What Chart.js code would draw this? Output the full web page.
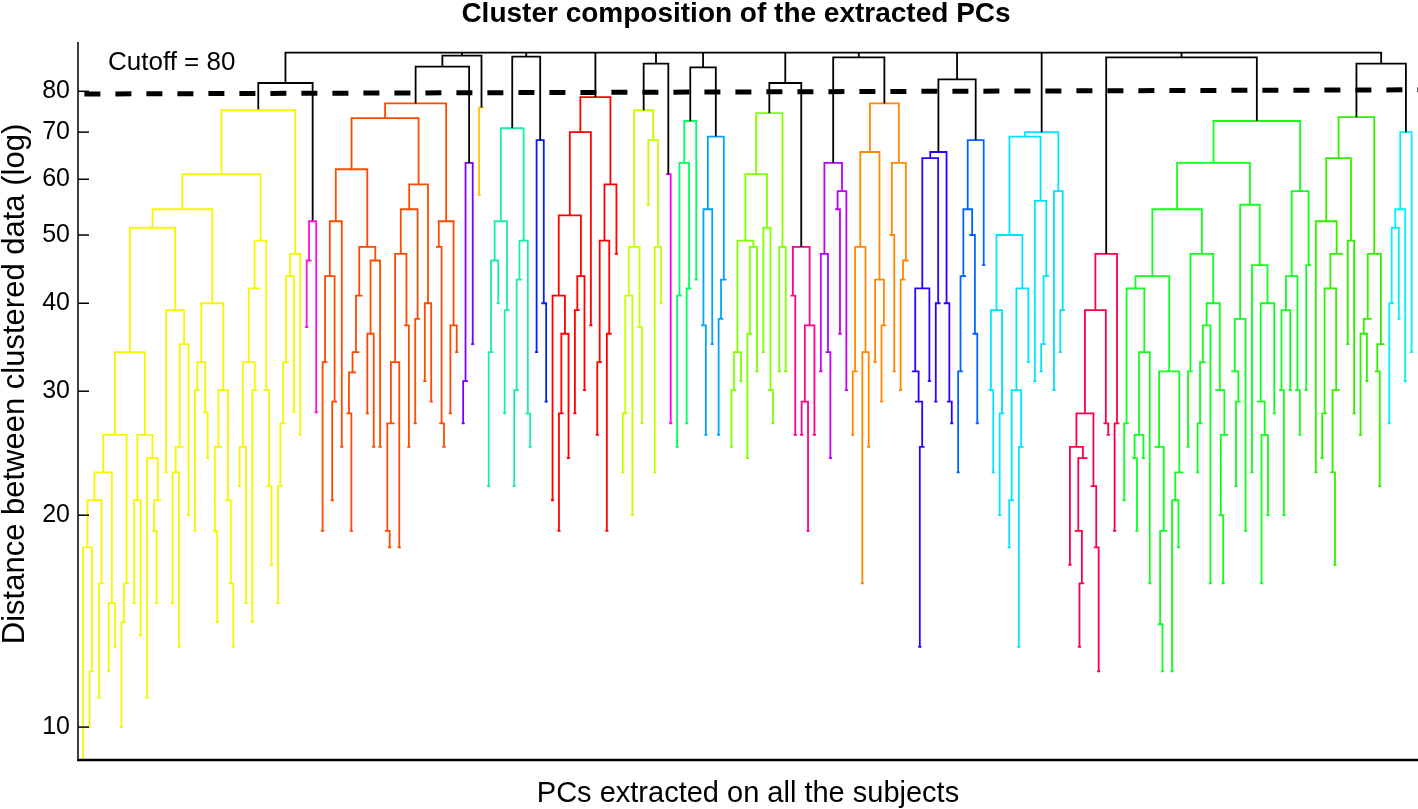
<!DOCTYPE html>
<html><head><meta charset="utf-8">
<script src="https://cdn.jsdelivr.net/npm/chart.js@4.4.1/dist/chart.umd.min.js"></script>
<style>html,body{margin:0;padding:0;background:#fff;overflow:hidden}canvas{display:block}</style>
</head><body>
<canvas id="c" width="1418" height="809"></canvas>
<script>
const FONT = "'Liberation Sans', Arial, Helvetica, sans-serif";

// ---- cluster trees: [mergeHeight, left, right]; a number = two leaves merged at that height; 0 = single leaf
const yellowCluster = [75.2,
  [61.0,
    [54.4,
      [51.2,
        [34.1,
          [26.0,
            [23.0,
              [21.0, [18.0, 8.5, [12.0, 10.0, 0]], [16.0, 11.0, 0]],
              [15.0, 12.0, 13.0]],
            [16.0, [14.1, 10.0, 0], 0]],
          [26.0,
            [21.0, 15.0, 13.5],
            [24.1, 11.0, [21.0, [19.0, 0, 15.0], 0]]]],
        [39.1, 23.0, [35.0, [25.0, [23.0, 15.0, 13.0], 0], 20.0]]],
      [40.0,
        [33.0, [30.1, 19.0, 0], [28.0, 0, 24.1]],
        [30.1, [25.0, [19.0, 0, 14.1], 0], [21.0, 0, [16.0, 0, 13.0]]]]],
    [49.1,
      [42.0, [33.0, [25.0, 22.0, 15.0], [30.1, 14.1, 0]], 0],
      [30.1, 0, [22.0, 0, 17.0]]]],
  [47.0, [43.7, [33.0, [27.0, [22.0, 15.0, 0], 0], 0], 28.0], 26.0]];
const magentaCluster = [52.3, [46.0, 37.0, 0], 28.0];
const orangeRedCluster = [76.9,
  [73.3,
    [62.0,
      [52.3, [43.7, [33.0, 19.0, 0], [29.0, 21.0, 0]], 25.0],
      [48.1, [41.0, [34.1, [31.9, [27.9, 0, 19.0], 0], 0], 0], [46.0, [36.2, 27.9, 25.0], 25.0]]],
    [59.0,
      [54.4, [47.0, [33.0, [27.0, [19.0, 0, 18.0], 0], 18.0], [37.2, 0, 25.0]], [38.0, 27.0, 0]],
      [40.0, 31.0, 29.0]]],
  [52.3, [48.1, 0, [27.0, 0, 25.0]], [37.2, 27.9, 34.1]]];
const purpleCluster = [63.3, [31.0, 27.0, 0], 35.0];
const amberCluster = [75.9, 57.0, 0];
const tealCluster = [70.9, [52.3, [46.0, [34.1, 22.0, 0], 40.0], [39.1, 27.9, 0]], [49.1, [43.2, [30.1, 22.0, 0], 0], [27.9, 0, 25.0]]];
const blueCluster = [68.2, 34.1, [40.0, 0, 29.0]];
const redCluster = [78.5, [70.0, [53.3, [41.0, 21.0, [36.2, [27.9, 19.0, 0], 24.1]], [43.7, [39.1, 27.9, 0], 30.1]], 37.2], [59.0, [49.1, [33.0, 26.0, 0], [36.2, 19.0, 0]], 47.0]];
const limeCluster = [75.2, [48.1, [41.0, [27.9, 23.0, 0], 20.0], [37.0, 0, 27.0]], [68.2, 55.2, [48.1, 23.0, 40.0]]];
const magenta2Cluster = [61.0, 0, 27.0];
const springCluster = [72.6, [63.3, [41.0, 25.0, 0], [42.0, 27.0, 0]], 43.2];
const azureCluster = [69.0, [54.4, [37.2, 0, 26.0], 35.0], [43.2, [38.0, 26.0, 0], 0]];
const chartreuseCluster = [74.5, [61.0, [49.1, [34.1, [30.1, 25.0, 0], 31.0], [48.1, [36.2, 24.1, 0], 32.0]], [51.2, 34.1, [30.1, 0, 27.0]]], [48.1, 32.0, 32.0]];
const deepPinkCluster = [48.1, [41.0, 0, 26.0], [37.2, [29.0, 26.0, 19.0], 26.0]];
const violetCluster = [63.3, [47.0, 32.0, [34.1, 0, 24.1]], [57.7, [54.4, 0, 36.2], 30.1]];
const darkOrangeCluster = [76.9, [65.6, [48.1, [32.0, 26.0, 0], [34.1, 16.0, 25.0]], [43.2, 33.0, [37.2, 29.0, 0]]], [63.3, [50.0, 0, 32.0], [46.0, [43.2, 30.1, 0], 0]]];
const indigoCluster = [65.6, [64.3, [42.0, [32.0, 0, [29.0, 0, [25.0, 13.0, 0]]], 31.0], [40.0, 29.0, 0]], [40.0, 0, [29.0, 0, 27.0]]];
const royalBlueCluster = [68.2, [54.4, [43.7, [32.0, 23.0, 0], 0], [50.0, 0, [36.2, 0, 27.0]]], 45.3];
const cyanCluster = [70.0, [69.0, [50.0, [39.1, [30.1, 0, 23.0], [27.9, 20.0, 0]], [42.0, [30.1, [21.0, 18.0, 0], [25.0, 13.0, 0]], 33.0]], [55.9, 31.0, [43.7, [35.0, 32.0, 0], 0]]], [57.7, 30.1, [39.1, 34.1, 0]]];
const crimsonCluster = [47.0, [39.1, [27.9, [25.0, 17.0, [24.1, [19.0, 0, [16.0, 13.0, 0]], 0]], [22.0, 0, [18.0, 0, 12.0]]], [27.0, 0, 26.0]], [27.0, 19.0, 0]];
const greenCluster = [72.6,
  [63.3,
    [54.4,
      [43.7, [42.0, [27.0, 21.0, 0], [34.1, [26.0, [24.1, 0, 19.0], 24.1], 16.0]], [32.0, [25.0, 0, [19.0, [14.0, 0, 12.0], 0]], [23.0, [21.0, 12.0, 18.0], 0]]],
      [47.0, [32.0, 25.0, 0], [40.0, [37.2, [33.0, [27.0, 23.0, 0], 0], 16.0], [30.1, 0, [26.0, [20.0, 0, 16.0], 0]]]]],
    [55.2, [38.0, [32.0, 0, [29.0, 22.0, 0]], 19.0], [45.3, 23.0, [40.0, [29.0, 0, [26.0, 16.0, 20.0]], 27.9]]]],
  [57.7, [43.7, [39.1, [30.1, 0, 20.0], 30.1], [30.1, 0, 26.0]], [45.3, 30.1, 0]]];
const green2Cluster = [73.5, [64.3, [52.3, 23.0, [47.0, [42.0, [27.9, 24.1, 0], [30.1, [23.0, 0, 17.0], 0]], 0]], [49.1, 35.0, 27.9]], [47.0, [38.0, [36.2, 26.0, 31.0], 0], [35.0, [32.0, 0, 22.0], 0]]];
const aquaCluster = [70.0, [54.4, [51.2, [40.0, 27.0, 0], 38.0], 31.0], 34.1];

const clusterNames = ['yellow','magenta','orangeRed','purple','amber','teal','blue','red','lime','magenta2','spring','azure','chartreuse','deepPink','violet','darkOrange','indigo','royalBlue','cyan','crimson','green','green2','aqua'];
const clusterColors = ['#f6f600','#ff10d8','#ff4800','#7c00ff','#ffc400','#18f0a0','#0020ff','#ff0000','#c4ff00','#ff00ff','#00ff60','#00a4ff','#80ff00','#ff0088','#c000ff','#ff8800','#3000ff','#0064ff','#00e4ff','#ff0048','#10ff20','#30f000','#00f4f4'];
const clusterTrees = [yellowCluster, magentaCluster, orangeRedCluster, purpleCluster, amberCluster, tealCluster, blueCluster, redCluster, limeCluster, magenta2Cluster, springCluster, azureCluster, chartreuseCluster, deepPinkCluster, violetCluster, darkOrangeCluster, indigoCluster, royalBlueCluster, cyanCluster, crimsonCluster, greenCluster, green2Cluster, aquaCluster];

// ---- links above the cutoff (black)
const topGroups = [
  [82.2, 'yellow', 'magenta'],
  [89.9, [86.7, 'orangeRed', 'purple'], 'amber'],
  [89.6, 'teal', 'blue'],
  'red',
  [87.6, 'lime', 'magenta2'],
  [86.5, 'spring', 'azure'],
  [82.2, 'chartreuse', 'deepPink'],
  [89.4, 'violet', 'darkOrange'],
  [83.2, 'indigo', 'royalBlue'],
  'cyan',
  [89.4, 'crimson', 'green'],
  [87.6, 'green2', 'aqua']
];
const rootMergeHeights = [90.8, 90.8, 90.8, 90.8, 90.8, 90.8, 90.8, 90.8, 90.8, 90.8, 90.8];
const yTickValues = [10, 20, 30, 40, 50, 60, 70, 80];
const cutoffValue = 80;
const cutoffEnds = [79.3, 80.4];
const linkColor = '#000000';
const titleText = 'Cluster composition of the extracted PCs';
const yTitleText = 'Distance between clustered data (log)';
const xTitleText = 'PCs extracted on all the subjects';

// ---- build dendrogram paths
let leafCount = 0;
const paths = new Map();
function pushPath(color, pts) {
  if (!paths.has(color)) paths.set(color, []);
  const arr = paths.get(color);
  for (const p of pts) arr.push(p);
  arr.push({x: pts[pts.length - 1].x, y: null});
}
function link(a, b, h, color) {
  const pts = [];
  if (a.h > 0) pts.push({x: a.x, y: a.h});
  pts.push({x: a.x, y: h}, {x: b.x, y: h});
  if (b.h > 0) pts.push({x: b.x, y: b.h});
  pushPath(color, pts);
  return {x: (a.x + b.x) / 2, h: h};
}
function build(node, color) {
  if (typeof node === 'string') {
    const i = clusterNames.indexOf(node);
    return build(clusterTrees[i], clusterColors[i]);
  }
  if (typeof node === 'number') {
    if (node === 0) { leafCount += 1; return {x: leafCount, h: 0}; }
    const a = {x: ++leafCount, h: 0};
    const b = {x: ++leafCount, h: 0};
    return link(a, b, node, color);
  }
  const a = build(node[1], color);
  const b = build(node[2], color);
  return link(a, b, node[0], color);
}
let acc = build(topGroups[0], linkColor);
for (let i = 1; i < topGroups.length; i++) {
  const nxt = build(topGroups[i], linkColor);
  acc = link(acc, nxt, rootMergeHeights[i - 1], linkColor);
}
const xMin = 1 - 1.1;
const xMax = leafCount + 1.5;

const datasets = [{
  data: [{x: xMin + 2, y: cutoffEnds[0]}, {x: xMax, y: cutoffEnds[1]}],
  borderColor: '#000', borderWidth: 5, borderDash: [16, 15], pointRadius: 0, showLine: true, fill: false
}];
for (const [color, pts] of paths) {
  datasets.push({data: pts, borderColor: color, borderWidth: 1.8, pointRadius: 0, showLine: true, spanGaps: false, fill: false, tension: 0});
}

const decor = {
  id: 'decor',
  afterDraw(chart) {
    const {ctx, chartArea: ca} = chart;
    const y = chart.scales.y;
    ctx.save();
    ctx.strokeStyle = '#000';
    ctx.lineWidth = 1.5;
    ctx.beginPath(); ctx.moveTo(ca.left, ca.top); ctx.lineTo(ca.left, ca.bottom); ctx.stroke();
    ctx.lineWidth = 2.5;
    ctx.beginPath(); ctx.moveTo(ca.left - 1, ca.bottom); ctx.lineTo(ca.right, ca.bottom); ctx.stroke();
    ctx.lineWidth = 1.5;
    for (const v of yTickValues) {
      const py = y.getPixelForValue(v);
      ctx.beginPath(); ctx.moveTo(ca.left, py); ctx.lineTo(ca.left + 11, py); ctx.stroke();
    }
    ctx.fillStyle = '#000';
    ctx.textBaseline = 'middle';
    ctx.textAlign = 'center';
    ctx.font = 'bold 28px ' + FONT;
    ctx.fillText(titleText, (ca.left + ca.right) / 2 - 12, 14);
    ctx.font = '26px ' + FONT;
    ctx.textAlign = 'left';
    ctx.fillText('Cutoff = ' + cutoffValue, ca.left + 30, ca.top + 21);
    ctx.translate(15, 384);
    ctx.rotate(-Math.PI / 2);
    ctx.font = '31px ' + FONT;
    ctx.textAlign = 'center';
    ctx.fillText(yTitleText, 0, 0);
    ctx.restore();
  }
};

new Chart(document.getElementById('c'), {
  type: 'scatter',
  data: {datasets},
  plugins: [decor],
  options: {
    responsive: false, animation: false, devicePixelRatio: 1,
    layout: {padding: {top: 42, left: 0, right: 0, bottom: 0}},
    plugins: {
      legend: {display: false}, tooltip: {enabled: false}, title: {display: false}
    },
    scales: {
      x: {type: 'linear', min: xMin, max: xMax,
        grid: {display: false, drawTicks: false}, border: {display: false},
        ticks: {display: false},
        title: {display: true, text: xTitleText, color: '#000',
          font: {family: FONT, size: 29, lineHeight: 1}, padding: {top: 0, bottom: 1}},
        afterFit: s => { s.height = 49; }
      },
      y: {type: 'logarithmic', min: 8.98, max: 94.0,
        grid: {display: false, drawTicks: false}, border: {display: false},
        afterBuildTicks: s => { s.ticks = yTickValues.map(v => ({value: v})); },
        ticks: {color: '#000', font: {family: FONT, size: 25}, padding: 8, autoSkip: false, callback: v => String(v)},
        afterFit: s => { s.width = 78; }
      }
    }
  }
});
</script></body></html>
